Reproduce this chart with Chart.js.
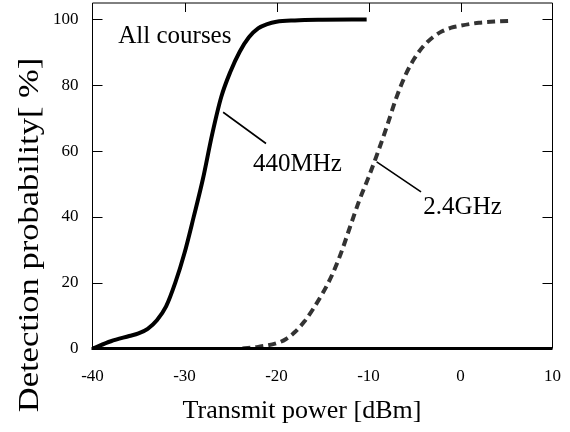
<!DOCTYPE html>
<html>
<head>
<meta charset="utf-8">
<script src="https://cdn.jsdelivr.net/npm/chart.js@4/dist/chart.umd.min.js"></script>
<style>
  html, body { margin: 0; padding: 0; background: #fff; }
  #wrap { width: 570px; height: 432px; }
</style>
</head>
<body>
<div id="wrap"><canvas id="c" width="570" height="432"></canvas></div>
<script>
// 440 MHz band: transmit power [dBm] vs detection probability [%]
const power440 = [-40, -38, -36, -35, -34, -33, -32, -31, -30, -29, -28, -27, -26, -25, -24, -23, -22, -21, -20, -18, -15, -10.2];
const prob440  = [0, 2.2, 3.8, 4.6, 6.0, 8.6, 12.8, 20.0, 29.0, 40.0, 51.5, 65.0, 76.5, 84.2, 90.2, 94.6, 97.3, 98.6, 99.3, 99.7, 99.9, 100];

// 2.4 GHz band
const power24 = [-23.7, -22, -20, -19, -18, -17, -16, -15, -14, -13, -12, -11, -10, -9, -8, -7, -6, -5, -4, -3, -2, -1, 0, 2, 4, 5.7];
const prob24  = [0, 0.5, 1.6, 2.8, 5.0, 8.1, 12.1, 16.7, 22.1, 28.9, 37.0, 45.0, 52.0, 59.5, 67.5, 76.0, 83.0, 88.2, 92.0, 94.6, 96.4, 97.5, 98.1, 99.0, 99.4, 99.6];

const xTicks = [-40, -30, -20, -10, 0, 10];
const yTicks = [0, 20, 40, 60, 80, 100];
const yInnerTicks = [20, 40, 60, 80, 100];
const xInnerTicks = [-30, -20, -10, 0];

const xTitle = 'Transmit power [dBm]';
const yTitle = 'Detection probability[ %]';

// Text notes placed in data coordinates: [text, x, y]
const notes = [
  ['All courses', -37.2, 92.7],
  ['440MHz', -22.55, 53.9],
  ['2.4GHz', -4.04, 40.9]
];
// Leader lines from curve to label: [x1, y1, x2, y2]
const leaders = [
  [-25.8, 71.8, -21.14, 62.3],
  [-9.11, 56.7, -4.29, 47.6]
];

const SERIF = '"Liberation Serif", "DejaVu Serif", serif';

const toPoints = (xs, ys) => xs.map((x, i) => ({ x: x, y: ys[i] }));

// keep the plot box fixed: no extra room reserved for overhanging tick labels
const noOverhang = s => { s.paddingLeft = 0; s.paddingRight = 0; s.paddingTop = 0; s.paddingBottom = 0; };

const framePlugin = {
  id: 'frame',
  afterDatasetsDraw(chart) {
    const { ctx, chartArea: a, scales: { x, y } } = chart;
    ctx.save();
    ctx.strokeStyle = '#000';
    ctx.lineWidth = 1;
    ctx.beginPath();
    ctx.moveTo(a.left, a.bottom);
    ctx.lineTo(a.left, a.top);
    ctx.lineTo(a.right, a.top);
    ctx.lineTo(a.right, a.bottom);
    // inward tick marks
    yInnerTicks.forEach(v => {
      const py = Math.round(y.getPixelForValue(v)) + 0.5;
      ctx.moveTo(a.left, py); ctx.lineTo(a.left + 10, py);
      ctx.moveTo(a.right, py); ctx.lineTo(a.right - 10, py);
    });
    xInnerTicks.forEach(v => {
      const px = Math.round(x.getPixelForValue(v)) + 0.5;
      ctx.moveTo(px, a.top); ctx.lineTo(px, a.top + 9);
    });
    ctx.stroke();
    // heavy baseline
    ctx.lineWidth = 3;
    ctx.beginPath();
    ctx.moveTo(a.left - 1, a.bottom);
    ctx.lineTo(a.right, a.bottom);
    ctx.stroke();

    // leader lines
    ctx.lineWidth = 1.6;
    ctx.beginPath();
    leaders.forEach(([x1, y1, x2, y2]) => {
      ctx.moveTo(x.getPixelForValue(x1), y.getPixelForValue(y1));
      ctx.lineTo(x.getPixelForValue(x2), y.getPixelForValue(y2));
    });
    ctx.stroke();

    // notes
    ctx.fillStyle = '#000';
    ctx.font = '25px ' + SERIF;
    ctx.textAlign = 'left';
    ctx.textBaseline = 'alphabetic';
    notes.forEach(([t, nx, ny]) => {
      ctx.fillText(t, x.getPixelForValue(nx), y.getPixelForValue(ny));
    });

    // axis titles
    ctx.font = '26px ' + SERIF;
    ctx.textAlign = 'center';
    ctx.fillText(xTitle, 302, 418);
    ctx.save();
    ctx.translate(38, 235);
    ctx.rotate(-Math.PI / 2);
    ctx.scale(1.15, 1);
    ctx.font = '30px ' + SERIF;
    ctx.fillText(yTitle, 0, 0);
    ctx.restore();
    ctx.restore();
  }
};

new Chart(document.getElementById('c'), {
  type: 'line',
  data: {
    datasets: [
      {
        label: '440MHz',
        data: toPoints(power440, prob440),
        borderColor: '#000',
        borderWidth: 4,
        pointRadius: 0,
        cubicInterpolationMode: 'monotone',
        fill: false
      },
      {
        label: '2.4GHz',
        data: toPoints(power24, prob24),
        borderColor: '#333',
        borderWidth: 4,
        borderDash: [8, 5],
        pointRadius: 0,
        cubicInterpolationMode: 'monotone',
        fill: false
      }
    ]
  },
  options: {
    responsive: false,
    devicePixelRatio: 1,
    animation: false,
    events: [],
    layout: { autoPadding: false, padding: { top: 3, right: 17.5, left: 0, bottom: 0 } },
    plugins: { legend: { display: false }, tooltip: { enabled: false } },
    scales: {
      x: {
        type: 'linear',
        min: -40,
        max: 10,
        afterBuildTicks: s => { s.ticks = xTicks.map(v => ({ value: v })); },
        afterFit: s => { s.height = 83.5; noOverhang(s); },
        grid: { display: false, drawTicks: false },
        border: { display: false },
        ticks: {
          color: '#000',
          padding: 18,
          maxRotation: 0,
          font: { family: SERIF, size: 17 }
        }
      },
      y: {
        type: 'linear',
        min: 0,
        max: 105,
        afterBuildTicks: s => { s.ticks = yTicks.map(v => ({ value: v })); },
        afterFit: s => { s.width = 92.5; noOverhang(s); },
        grid: { display: false, drawTicks: false },
        border: { display: false },
        ticks: {
          color: '#000',
          padding: 14,
          font: { family: SERIF, size: 17 }
        }
      }
    }
  },
  plugins: [framePlugin]
});
</script>
</body>
</html>
